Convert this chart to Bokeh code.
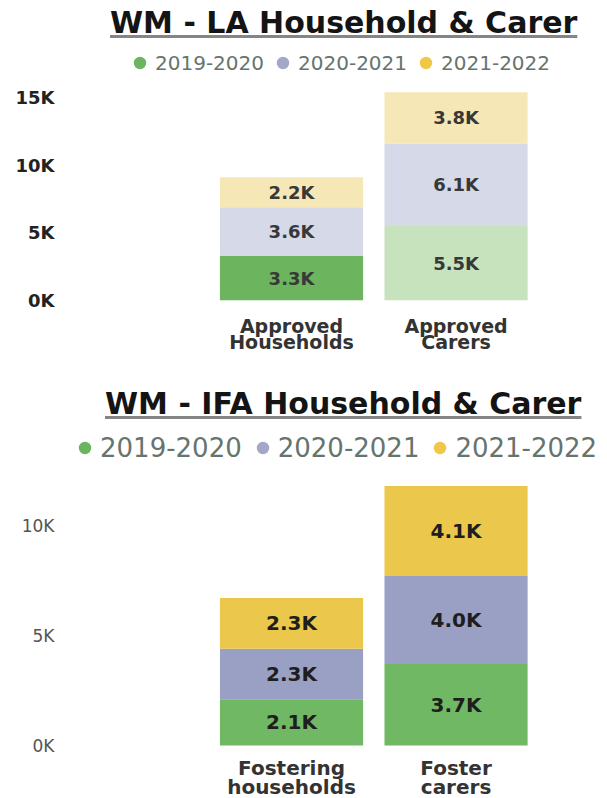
import html
from bokeh.plotting import figure
from bokeh.models import ColumnDataSource, Range1d, FixedTicker, Legend, LegendItem, Div
from bokeh.layouts import column
from bokeh.embed import file_html
from bokeh.resources import INLINE
from bokeh.core.properties import value

# ---------------- data ----------------
years = ["2019-2020", "2020-2021", "2021-2022"]

la_title = "WM - LA Household & Carer"
la_categories = ["Approved\nHouseholds", "Approved\nCarers"]
la_2019 = [3300, 5500]
la_2020 = [3600, 6100]
la_2021 = [2200, 3800]
la_ticks = [0, 5000, 10000, 15000]
la_tick_labels = ["0K", "5K", "10K", "15K"]

ifa_title = "WM - IFA Household & Carer"
ifa_categories = ["Fostering\nhouseholds", "Foster\ncarers"]
ifa_2019 = [2100, 3700]
ifa_2020 = [2300, 4000]
ifa_2021 = [2300, 4100]
ifa_ticks = [0, 5000, 10000]
ifa_tick_labels = ["0K", "5K", "10K"]

# ---------------- styles ----------------
FONT = "DejaVu Sans"
la_colors = [["#6cb45e", "#c6e3be"], ["#d6d9e7", "#d6d9e7"], ["#f6e8b6", "#f6e8b6"]]
la_legend_colors = ["#6cb560", "#a4a8c8", "#efc847"]
ifa_colors = [["#71b864", "#71b864"], ["#9aa0c4", "#9aa0c4"], ["#ebc74b", "#ebc74b"]]
ifa_legend_colors = ["#6cb560", "#a4a8c8", "#efc847"]
NAN = float("nan")


def make_title(text, height, pad_top, pad_left):
    inner = (
        f'<div style="padding-left:{pad_left}px; padding-top:{pad_top}px; '
        f"font-family:'DejaVu Sans'; font-weight:bold; font-size:30px; line-height:34px; "
        f'color:#141414; white-space:nowrap;">'
        f'<span style="text-decoration:underline; text-decoration-color:#858585; '
        f'text-decoration-thickness:3px; text-underline-offset:2px;">{html.escape(text)}</span></div>'
    )
    return Div(text=inner, width=607, height=height, margin=0)


def make_chart(cats, series, colors, legend_colors, ticks, tick_labels, cfg):
    idx = list(range(len(cats)))
    data = {"x": idx}
    for yr, vals in zip(years, series):
        data[yr] = vals
    for k, cl in enumerate(colors):
        data[f"col{k}"] = cl
    src = ColumnDataSource(data)

    p = figure(width=607, height=cfg["height"],
               x_range=Range1d(-1.392, 1.878), y_range=Range1d(cfg["y_start"], cfg["y_end"]),
               output_backend="svg", toolbar_location=None, title=None,
               min_border_left=62, min_border_right=7, min_border_top=0,
               min_border_bottom=cfg["mb"])
    p.outline_line_color = None
    p.xgrid.visible = False
    p.ygrid.visible = False
    p.background_fill_color = "white"

    p.vbar_stack(years, x="x", width=0.87, source=src,
                 fill_color=[f"col{k}" for k in range(len(years))], line_color=None)

    lx, ly, lt = [], [], []
    for i in idx:
        base = 0
        for vals in series:
            v = vals[i]
            lx.append(i)
            ly.append(base + v / 2)
            lt.append(f"{v / 1000:.1f}K")
            base += v
    p.text(x=lx, y=ly, text=lt, text_align="center", text_baseline="middle",
           text_font=value(FONT), text_font_style="bold",
           text_font_size=cfg["val_size"], text_color=cfg["val_color"])

    items = []
    for yr, col in zip(years, legend_colors):
        r = p.scatter(x=[NAN], y=[NAN], marker="circle", size=13, fill_color=col, line_color=None)
        items.append(LegendItem(label=yr, renderers=[r]))
    leg = Legend(items=items, orientation="horizontal", location=cfg["leg_loc"],
                 border_line_color=None, background_fill_alpha=0, padding=0, margin=0,
                 spacing=cfg["leg_spacing"], label_standoff=0,
                 glyph_width=31, glyph_height=31,
                 label_text_font=FONT, label_text_font_size=cfg["leg_size"],
                 label_text_color="#66746e")
    p.add_layout(leg)

    xa = p.xaxis[0]
    xa.ticker = FixedTicker(ticks=idx)
    xa.axis_line_color = None
    xa.major_tick_line_color = None
    xa.minor_tick_line_color = None
    xa.major_tick_out = 0
    xa.major_tick_in = 0
    if cfg["axis_labels"]:
        xa.major_label_overrides = {i: c for i, c in zip(idx, cats)}
        xa.major_label_standoff = cfg["x_standoff"]
        xa.major_label_text_font = FONT
        xa.major_label_text_font_style = "bold"
        xa.major_label_text_font_size = cfg["cat_size"]
        xa.major_label_text_color = "#333333"
        xa.major_label_text_line_height = cfg["cat_lh"]
    else:
        xa.visible = False
        p.text(x=idx, y=[0] * len(idx), text=cats, text_align="center", text_baseline="top",
               y_offset=cfg["x_standoff"], text_font=value(FONT), text_font_style="bold",
               text_font_size=cfg["cat_size"], text_color="#333333",
               text_line_height=cfg["cat_lh"])

    ya = p.yaxis[0]
    ya.ticker = FixedTicker(ticks=ticks)
    ya.major_label_overrides = {t: l for t, l in zip(ticks, tick_labels)}
    ya.axis_line_color = None
    ya.major_tick_line_color = None
    ya.minor_tick_line_color = None
    ya.major_tick_out = 0
    ya.major_tick_in = 0
    ya.major_label_standoff = 8
    ya.major_label_text_font = FONT
    ya.major_label_text_font_style = cfg["tick_style"]
    ya.major_label_text_font_size = cfg["tick_size"]
    ya.major_label_text_color = cfg["tick_color"]
    return p


p1 = make_chart(la_categories, [la_2019, la_2020, la_2021], la_colors, la_legend_colors,
                la_ticks, la_tick_labels,
                dict(height=320, y_start=0, y_end=19068, mb=62, val_size="18px", val_color="#383838",
                     leg_loc=(62, 222), leg_spacing=3, leg_size="20px", axis_labels=True,
                     x_standoff=14, cat_size="19px", cat_lh=0.77,
                     tick_style="bold", tick_size="18px", tick_color="#222222"))

p2 = make_chart(ifa_categories, [ifa_2019, ifa_2020, ifa_2021], ifa_colors, ifa_legend_colors,
                ifa_ticks, ifa_tick_labels,
                dict(height=376, y_start=-2409, y_end=14682, mb=0, val_size="20px", val_color="#1e1e1e",
                     leg_loc=(7, 335), leg_spacing=5, leg_size="26px", axis_labels=False,
                     x_standoff=10, cat_size="20px", cat_lh=0.8,
                     tick_style="normal", tick_size="17px", tick_color="#555555"))

t1 = make_title(la_title, 42, 6, 110)
t2 = make_title(ifa_title, 60, 25, 105)

layout = column(t1, p1, t2, p2, spacing=0, margin=0)
open("out.html", "w").write(file_html(layout, INLINE))
